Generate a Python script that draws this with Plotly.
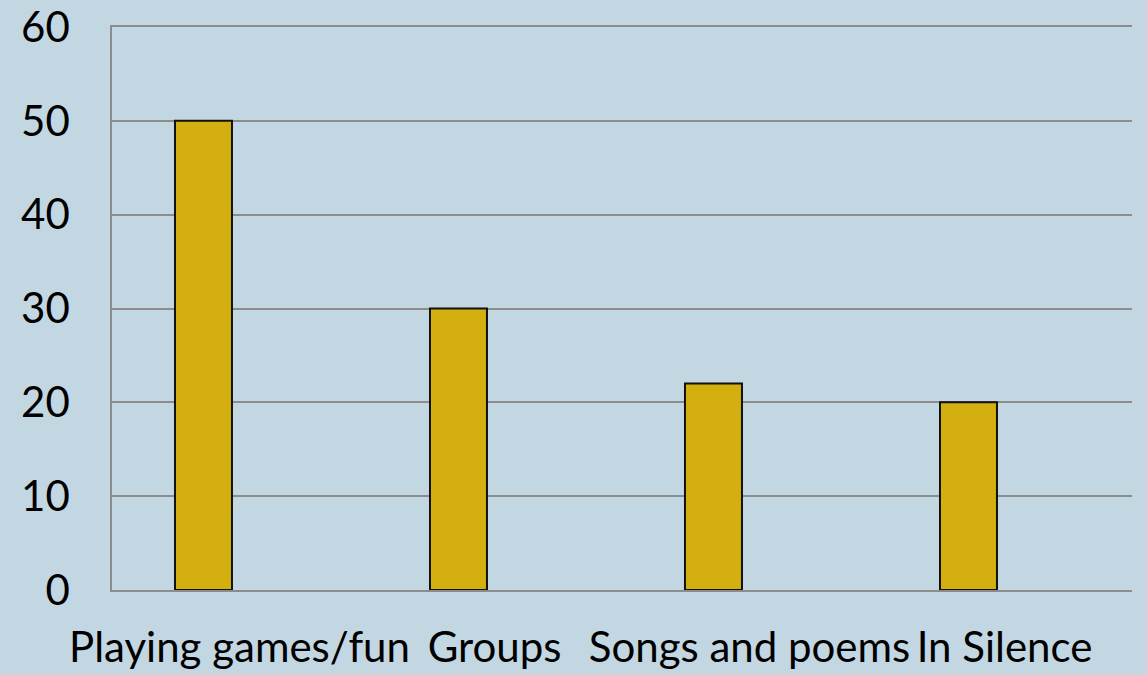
import plotly.graph_objects as go

categories = ["Playing games/fun", "Groups", "Songs and poems", "In Silence"]
values = [50, 30, 22, 20]
y_ticks = [0, 10, 20, 30, 40, 50, 60]

FONT = "Lato, 'Open Sans', sans-serif"

fig = go.Figure()
fig.add_trace(go.Bar(
    x=categories,
    y=values,
    width=0.2235,
    offset=-0.253,
    marker=dict(color="#d4af10", line=dict(color="#111111", width=2)),
    hoverinfo="skip",
))

fig.update_layout(
    width=1147, height=675,
    margin=dict(l=112, r=15, t=27, b=85),
    paper_bgcolor="#c3d7e3",
    plot_bgcolor="#c3d7e3",
    showlegend=False,
    font=dict(family=FONT, size=42, color="#000000"),
)
fig.update_xaxes(
    type="category",
    range=[-0.5, 3.5],
    showgrid=False,
    showline=True, mirror=True, linecolor="#8c8c8c", linewidth=1.5,
    ticks="", ticklabelstandoff=20,
    automargin=False,
    tickfont=dict(family=FONT, size=42, color="#000000"),
)
fig.update_yaxes(
    range=[0, 60],
    tickvals=y_ticks,
    showgrid=True, gridcolor="#8c8c8c", gridwidth=1.5,
    zeroline=False,
    showline=True, linecolor="#8c8c8c", linewidth=1.5,
    ticks="", ticklabelstandoff=32,
    automargin=False,
    tickfont=dict(family=FONT, size=42, color="#000000"),
)

fig.write_html(
    "out.html",
    config={"displayModeBar": False},
    post_script="document.body.style.margin='0';document.body.style.background='#c3d7e3';",
)
